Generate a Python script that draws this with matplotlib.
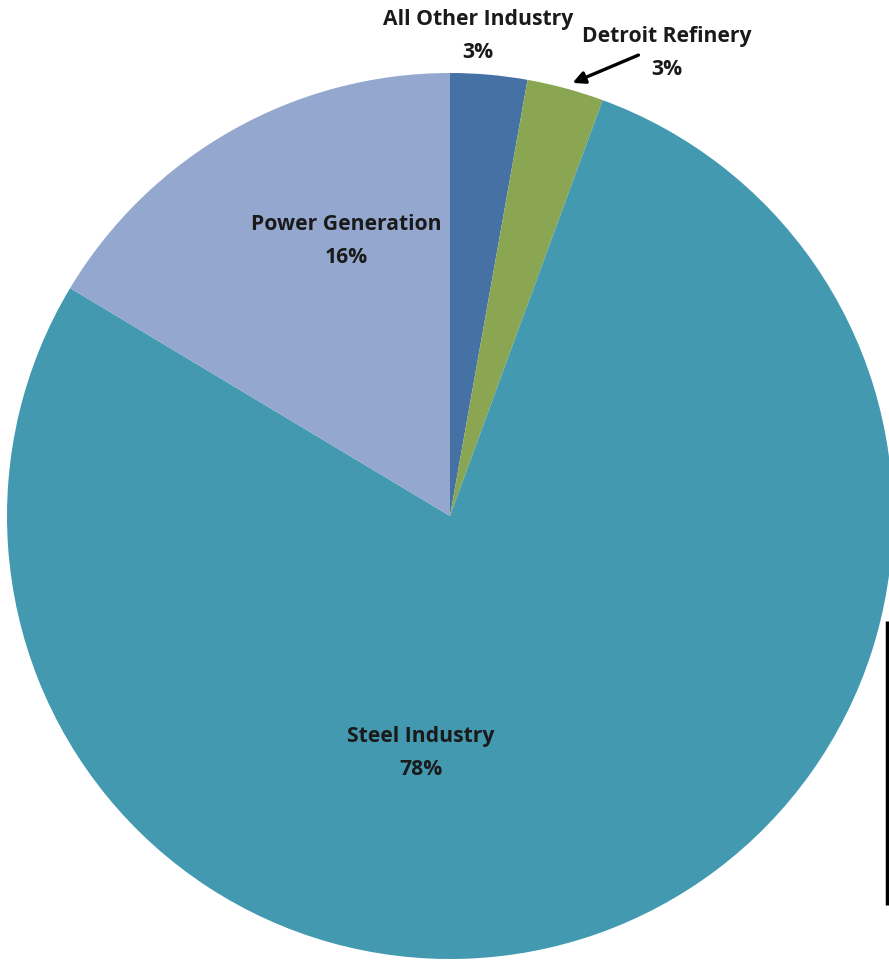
import matplotlib
matplotlib.use("Agg")
import matplotlib.pyplot as plt

categories = ["All Other Industry", "Detroit Refinery", "Steel Industry", "Power Generation"]
values = [2.8, 2.8, 78.0, 16.4]
pct_labels = ["3%", "3%", "78%", "16%"]
colors = ["#4571a5", "#8aa652", "#4299b0", "#94a8cf"]

W, H = 889, 962
fig = plt.figure(figsize=(W / 100, H / 100), dpi=100)
ax = fig.add_axes([0, 0, 1, 1])

cx, cy, r = 450, H - 517, 443
ax.pie(values, colors=colors, startangle=90, counterclock=False,
       center=(cx, cy), radius=r, wedgeprops=dict(linewidth=0))
ax.set_xlim(0, W)
ax.set_ylim(0, H)
ax.set_aspect("equal")
ax.axis("off")

font = dict(family=["Open Sans", "DejaVu Sans"], fontsize=15.2, fontweight="bold",
            color="#1a1a1a", ha="center", va="center", linespacing=1.75)

label_pos = {
    "All Other Industry": (478, 36),
    "Detroit Refinery": (667, 53),
    "Power Generation": (346, 241),
    "Steel Industry": (421, 753),
}
for cat, pct in zip(categories, pct_labels):
    x, y = label_pos[cat]
    ax.text(x, H - y, f"{cat}\n{pct}", **font)

ax.annotate("", xy=(570, H - 85), xytext=(641, H - 55),
            arrowprops=dict(arrowstyle="-|>", color="black", lw=2.4, mutation_scale=18))

ax.plot([887, 887], [H - 622, H - 906], color="black", lw=2.5, solid_capstyle="butt")

fig.savefig("out.png", dpi=100)
